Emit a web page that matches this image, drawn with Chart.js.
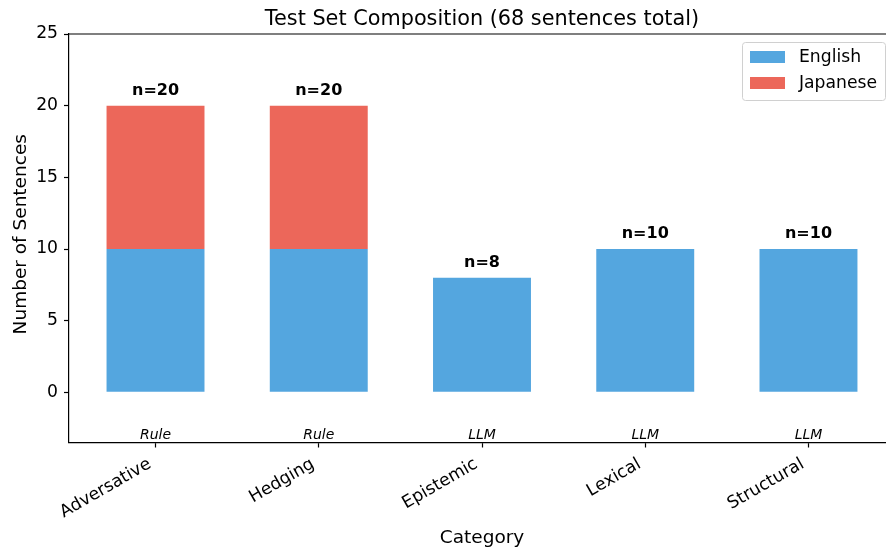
<!DOCTYPE html>
<html><head><meta charset="utf-8">
<script src="https://cdn.jsdelivr.net/npm/chart.js@4"></script>
<style>
html,body{margin:0;padding:0;background:#fff;overflow:hidden;width:886px;height:548px;}
#wrap{width:896px;height:548px;position:relative;}
</style></head><body>
<div id="wrap"><canvas id="c" width="896" height="548"></canvas></div>
<script>
const categories = ['Adversative', 'Hedging', 'Epistemic', 'Lexical', 'Structural'];
const englishCounts = [10, 10, 8, 10, 10];
const japaneseCounts = [10, 10, 0, 0, 0];
const countLabels = ['n=20', 'n=20', 'n=8', 'n=10', 'n=10'];
const methodLabels = ['Rule', 'Rule', 'LLM', 'LLM', 'LLM'];
const yTicks = [0, 5, 10, 15, 20, 25];
const seriesNames = ['English', 'Japanese'];
const colors = ['#54a6df', '#ec675a'];

const FONT = "'DejaVu Sans', sans-serif";

const overlay = {
  id: 'overlay',
  afterDraw(chart) {
    const ctx = chart.ctx, a = chart.chartArea;
    const xs = chart.scales.x, ys = chart.scales.y;
    ctx.save();
    // spines top/right
    ctx.strokeStyle = '#000'; ctx.lineWidth = 1.2;
    ctx.beginPath();
    ctx.moveTo(a.left, a.top); ctx.lineTo(a.right, a.top); ctx.lineTo(a.right, a.bottom);
    ctx.stroke();
    // title
    ctx.fillStyle = '#000';
    ctx.textAlign = 'center'; ctx.textBaseline = 'alphabetic';
    ctx.font = `20.8px ${FONT}`;
    ctx.fillText('Test Set Composition (68 sentences total)', (a.left + a.right) / 2, 25);
    // axis titles
    ctx.font = `18.5px ${FONT}`;
    ctx.fillText('Category', (a.left + a.right) / 2, 543);
    ctx.save();
    ctx.translate(25.5, (a.top + a.bottom) / 2 - 4);
    ctx.rotate(-Math.PI / 2);
    ctx.fillText('Number of Sentences', 0, 0);
    ctx.restore();
    // x tick labels (rotated 30°, right-aligned at tick)
    ctx.font = `17.2px ${FONT}`;
    ctx.textAlign = 'right'; ctx.textBaseline = 'top';
    categories.forEach((c, i) => {
      ctx.save();
      ctx.translate(xs.getPixelForValue(i) - 10, a.bottom + 13);
      ctx.rotate(-Math.PI / 6);
      ctx.fillText(c, 0, 0);
      ctx.restore();
    });
    // count labels
    ctx.textAlign = 'center';
    ctx.font = `bold 16px ${FONT}`;
    ctx.textBaseline = 'bottom';
    categories.forEach((c, i) => {
      const tot = englishCounts[i] + japaneseCounts[i];
      ctx.fillText(countLabels[i], xs.getPixelForValue(i), ys.getPixelForValue(tot + 0.5));
    });
    // method labels
    ctx.font = `italic 14px ${FONT}`;
    ctx.textBaseline = 'middle';
    categories.forEach((c, i) => {
      ctx.fillText(methodLabels[i], xs.getPixelForValue(i), ys.getPixelForValue(-3));
    });
    // legend
    const lx = 742, ly = 42, lw = 143, lh = 58;
    ctx.beginPath();
    if (ctx.roundRect) ctx.roundRect(lx + 0.5, ly + 0.5, lw, lh, 3); else ctx.rect(lx + 0.5, ly + 0.5, lw, lh);
    ctx.fillStyle = 'rgba(255,255,255,0.8)'; ctx.fill();
    ctx.strokeStyle = '#d0d0d0'; ctx.lineWidth = 1; ctx.stroke();
    ctx.font = `17.2px ${FONT}`;
    ctx.textAlign = 'left'; ctx.textBaseline = 'middle';
    seriesNames.forEach((n, i) => {
      const cy = 57 + i * 26;
      ctx.fillStyle = colors[i];
      ctx.fillRect(750, cy - 6, 35, 12);
      ctx.fillStyle = '#000';
      ctx.fillText(n, 799, cy + 1);
    });
    ctx.restore();
  }
};

new Chart(document.getElementById('c'), {
  type: 'bar',
  data: {
    datasets: [
      { label: seriesNames[0], data: englishCounts.map((v, i) => ({ x: i, y: v })), backgroundColor: colors[0], borderWidth: 0 },
      { label: seriesNames[1], data: japaneseCounts.map((v, i) => ({ x: i, y: v })), backgroundColor: colors[1], borderWidth: 0 }
    ]
  },
  options: {
    responsive: false,
    animation: false,
    devicePixelRatio: 1,
    layout: { padding: { top: 34, right: 1, left: 0, bottom: 0 } },
    plugins: { legend: { display: false }, title: { display: false }, tooltip: { enabled: false } },
    datasets: { bar: { barPercentage: 0.6, categoryPercentage: 1.0 } },
    scales: {
      x: {
        type: 'linear', stacked: true, min: -0.53, max: 4.53, offset: false,
        afterBuildTicks: s => { s.ticks = categories.map((c, i) => ({ value: i })); },
        afterFit: s => { s.height = 105.5; },
        ticks: { display: false },
        grid: { offset: false, drawOnChartArea: false, drawTicks: true, tickLength: 5, color: '#000', tickWidth: 1.2 },
        border: { color: '#000', width: 1.2 }
      },
      y: {
        stacked: true, min: -3.5, max: 25,
        afterBuildTicks: s => { s.ticks = yTicks.map(v => ({ value: v })); },
        afterFit: s => { s.width = 69; },
        ticks: { color: '#000', font: { family: FONT, size: 17.2 }, padding: 6 },
        grid: { drawOnChartArea: false, drawTicks: true, tickLength: 5, color: '#000', tickWidth: 1.2 },
        border: { color: '#000', width: 1.2 }
      }
    }
  },
  plugins: [overlay]
});
</script>
</body></html>
